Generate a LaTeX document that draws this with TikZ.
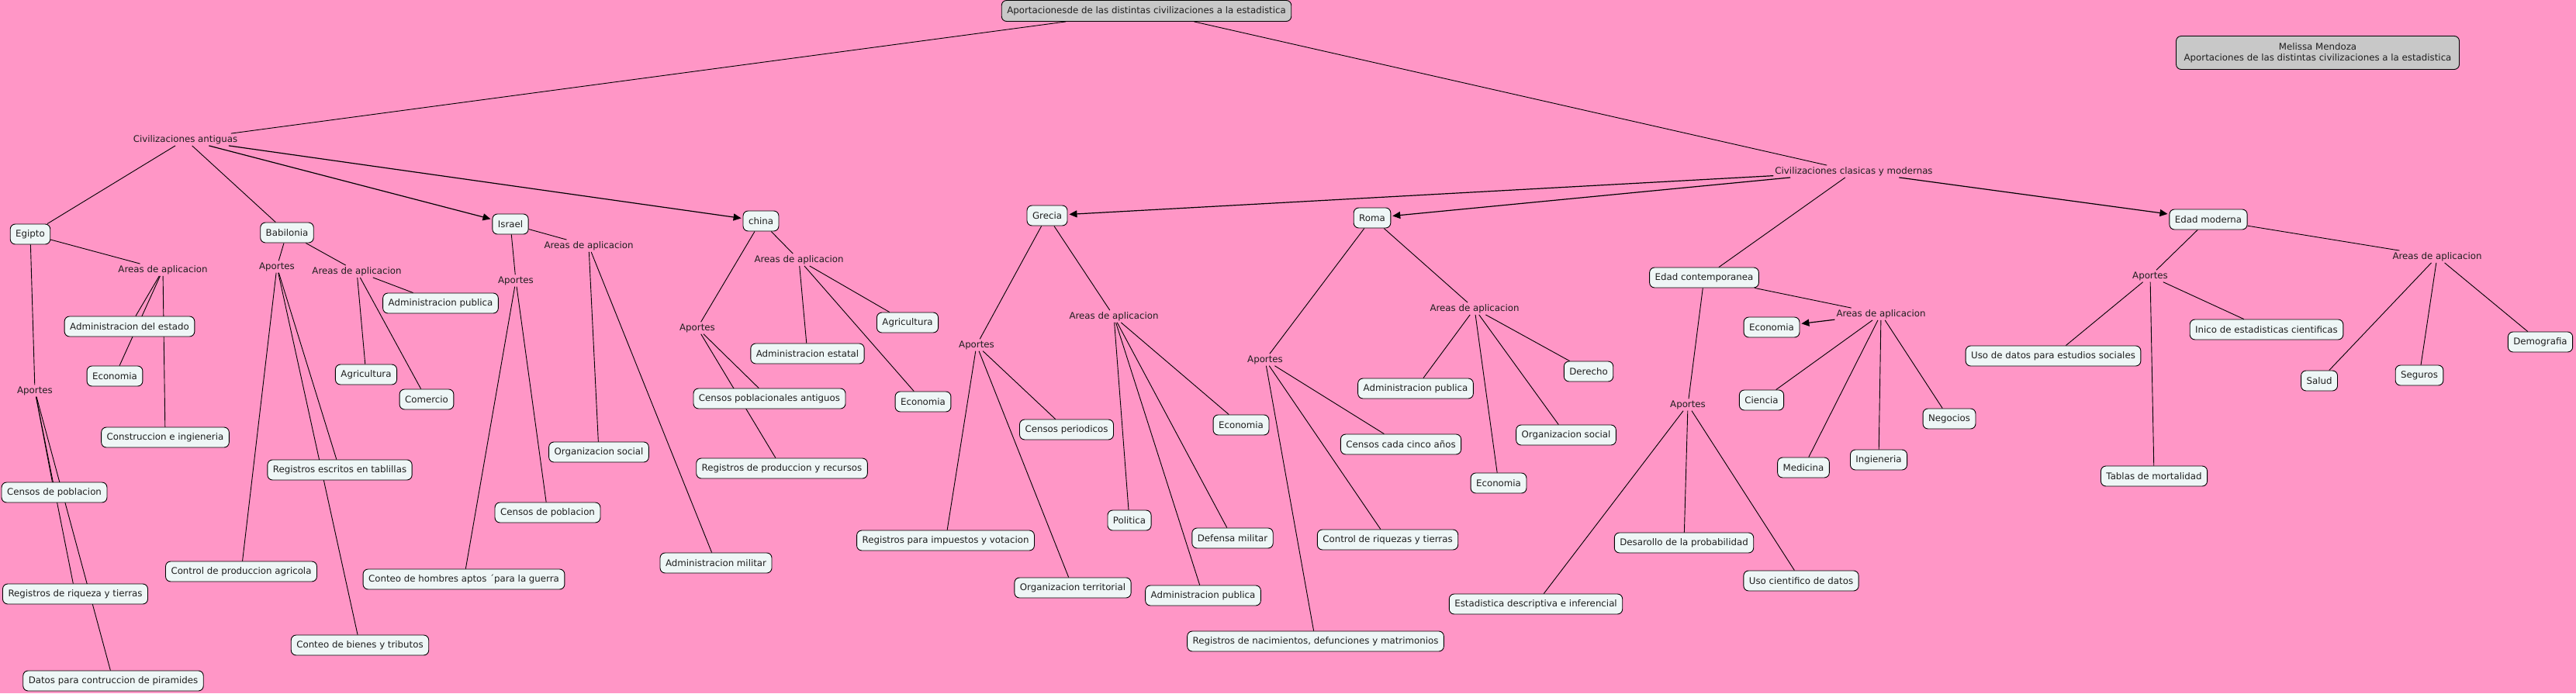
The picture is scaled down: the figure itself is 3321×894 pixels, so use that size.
\documentclass[tikz,border=0pt]{standalone}
\usepackage{fontspec}
\setmainfont{DejaVu Sans}
\usetikzlibrary{arrows.meta}
\definecolor{bgpink}{RGB}{255,150,198}
\definecolor{boxfill}{RGB}{238,246,246}
\definecolor{grayfill}{RGB}{200,200,200}
\definecolor{ink}{RGB}{30,30,30}
\pgfdeclarelayer{bglayer}
\pgfdeclarelayer{edgelayer}
\pgfsetlayers{bglayer,edgelayer,main}
\begin{document}
\begin{tikzpicture}[x=1pt,y=-1pt,
 every node/.style={font=\fontsize{11.8}{14}\selectfont, text=ink},
 concept/.style={draw=black, fill=boxfill, rounded corners=6.5pt, minimum height=26pt, inner xsep=7pt, inner ysep=2pt, line width=0.9pt},
 rootbox/.style={concept, fill=grayfill},
 linkph/.style={inner sep=2pt},
 conn/.style={draw=black, line width=0.9pt},
 arr/.style={conn, line width=1.2pt, shorten >=2pt, -{Triangle[length=10pt,width=9pt]}}
]
\begin{pgfonlayer}{bglayer}
\fill[bgpink] (0,0) rectangle (3321,894);
\end{pgfonlayer}
\path[use as bounding box] (0,0) rectangle (3321,894);

% roots
\node[rootbox, minimum height=27pt] (top) at (1478,14) {Aportacionesde de las distintas civilizaciones a la estadistica};
\node[rootbox, align=center, minimum width=365pt, minimum height=43pt] (author) at (2988,68) {Melissa Mendoza\\Aportaciones de las distintas civilizaciones a la estadistica};

\node[linkph] (ca) at (239,180) {Civilizaciones antiguas};
\node[linkph] (cm) at (2390,221) {Civilizaciones clasicas y modernas};

% civilizations
\node[concept] (eg) at (39,302) {Egipto};
\node[concept] (ba) at (370,300) {Babilonia};
\node[concept] (is) at (658,289) {Israel};
\node[concept] (ch) at (981,285) {china};
\node[concept] (gr) at (1350,278) {Grecia};
\node[concept] (ro) at (1769,281) {Roma};
\node[concept] (ec) at (2197,358) {Edad contemporanea};
\node[concept] (em) at (2847,283) {Edad moderna};

% Egipto
\node[linkph] (egA) at (210,348) {Areas de aplicacion};
\node[linkph] (egP) at (45,504) {Aportes};
\node[concept] (egA1) at (167,421) {Administracion del estado};
\node[concept] (egA2) at (148,485) {Economia};
\node[concept] (egA3) at (213,564) {Construccion e ingieneria};
\node[concept] (egP1) at (70,635) {Censos de poblacion};
\node[concept] (egP2) at (97,766) {Registros de riqueza y tierras};
\node[concept] (egP3) at (146,878) {Datos para contruccion de piramides};

% Babilonia
\node[linkph] (baP) at (357,344) {Aportes};
\node[linkph] (baA) at (460,350) {Areas de aplicacion};
\node[concept] (baA1) at (568,391) {Administracion publica};
\node[concept] (baA2) at (472,483) {Agricultura};
\node[concept] (baA3) at (550,515) {Comercio};
\node[concept] (baP1) at (438,606) {Registros escritos en tablillas};
\node[concept] (baP2) at (311,737) {Control de produccion agricola};
\node[concept] (baP3) at (464,832) {Conteo de bienes y tributos};

% Israel
\node[linkph] (isA) at (759,317) {Areas de aplicacion};
\node[linkph] (isP) at (665,362) {Aportes};
\node[concept] (isA1) at (772,583) {Organizacion social};
\node[concept] (isA2) at (923,726) {Administracion militar};
\node[concept] (isP1) at (706,661) {Censos de poblacion};
\node[concept] (isP2) at (598,747) {Conteo de hombres aptos ´para la guerra};

% china
\node[linkph] (chA) at (1030,335) {Areas de aplicacion};
\node[linkph] (chP) at (899,423) {Aportes};
\node[concept] (chA1) at (1170,416) {Agricultura};
\node[concept] (chA2) at (1041,456) {Administracion estatal};
\node[concept] (chA3) at (1190,518) {Economia};
\node[concept] (chP1) at (992,514) {Censos poblacionales antiguos};
\node[concept] (chP2) at (1008,604) {Registros de produccion y recursos};

% Grecia
\node[linkph] (grA) at (1436,408) {Areas de aplicacion};
\node[linkph] (grP) at (1259,445) {Aportes};
\node[concept] (grP1) at (1375,554) {Censos periodicos};
\node[concept] (grP2) at (1219,697) {Registros para impuestos y votacion};
\node[concept] (grP3) at (1383,758) {Organizacion territorial};
\node[concept] (grA1) at (1600,548) {Economia};
\node[concept] (grA2) at (1456,671) {Politica};
\node[concept] (grA3) at (1589,694) {Defensa militar};
\node[concept] (grA4) at (1551,768) {Administracion publica};

% Roma
\node[linkph] (roA) at (1901,398) {Areas de aplicacion};
\node[linkph] (roP) at (1631,464) {Aportes};
\node[concept] (roA1) at (1825,501) {Administracion publica};
\node[concept] (roA2) at (2048,479) {Derecho};
\node[concept] (roA3) at (2019,561) {Organizacion social};
\node[concept] (roA4) at (1932,623) {Economia};
\node[concept] (roP1) at (1806,573) {Censos cada cinco años};
\node[concept] (roP2) at (1789,696) {Control de riquezas y tierras};
\node[concept] (roP3) at (1696,827) {Registros de nacimientos, defunciones y matrimonios};

% Edad contemporanea
\node[linkph] (ecA) at (2425,405) {Areas de aplicacion};
\node[linkph] (ecP) at (2176,522) {Aportes};
\node[concept] (ecA1) at (2284,422) {Economia};
\node[concept] (ecA2) at (2271,516) {Ciencia};
\node[concept] (ecA3) at (2325,603) {Medicina};
\node[concept] (ecA4) at (2422,593) {Ingieneria};
\node[concept] (ecA5) at (2513,540) {Negocios};
\node[concept] (ecP1) at (2171,700) {Desarollo de la probabilidad};
\node[concept] (ecP2) at (2322,749) {Uso cientifico de datos};
\node[concept] (ecP3) at (1980,779) {Estadistica descriptiva e inferencial};

% Edad moderna
\node[linkph] (emP) at (2772,356) {Aportes};
\node[linkph] (emA) at (3142,331) {Areas de aplicacion};
\node[concept] (emP1) at (2647,459) {Uso de datos para estudios sociales};
\node[concept] (emP2) at (2922,425) {Inico de estadisticas cientificas};
\node[concept] (emP3) at (2777,614) {Tablas de mortalidad};
\node[concept] (emA1) at (2990,491) {Salud};
\node[concept] (emA2) at (3119,484) {Seguros};
\node[concept] (emA3) at (3275,441) {Demografia};

\begin{pgfonlayer}{edgelayer}
\draw[conn] (top) -- (ca);
\draw[conn] (top) -- (cm);
\draw[conn] (ca) -- (eg);
\draw[conn] (ca) -- (ba);
\draw[arr] (ca) -- (is);
\draw[arr] (ca) -- (ch);
\draw[arr] (cm) -- (gr);
\draw[arr] (cm) -- (ro);
\draw[conn] (cm) -- (ec);
\draw[arr] (cm) -- (em);
% Egipto
\draw[conn] (eg) -- (egA);
\draw[conn] (eg) -- (egP);
\draw[conn] (egA) -- (egA1);
\draw[conn] (egA) -- (egA2);
\draw[conn] (egA) -- (egA3);
\draw[conn] (egP) -- (egP1);
\draw[conn] (egP) -- (egP2);
\draw[conn] (egP) -- (egP3);
% Babilonia
\draw[conn] (ba) -- (baP);
\draw[conn] (ba) -- (baA);
\draw[conn] (baA) -- (baA1);
\draw[conn] (baA) -- (baA2);
\draw[conn] (baA) -- (baA3);
\draw[conn] (baP) -- (baP1);
\draw[conn] (baP) -- (baP2);
\draw[conn] (baP) -- (baP3);
% Israel
\draw[conn] (is) -- (isA);
\draw[conn] (is) -- (isP);
\draw[conn] (isA) -- (isA1);
\draw[conn] (isA) -- (isA2);
\draw[conn] (isP) -- (isP1);
\draw[conn] (isP) -- (isP2);
% china
\draw[conn] (ch) -- (chA);
\draw[conn] (ch) -- (chP);
\draw[conn] (chA) -- (chA1);
\draw[conn] (chA) -- (chA2);
\draw[conn] (chA) -- (chA3);
\draw[conn] (chP) -- (chP1);
\draw[conn] (chP) -- (chP2);
% Grecia
\draw[conn] (gr) -- (grA);
\draw[conn] (gr) -- (grP);
\draw[conn] (grP) -- (grP1);
\draw[conn] (grP) -- (grP2);
\draw[conn] (grP) -- (grP3);
\draw[conn] (grA) -- (grA1);
\draw[conn] (grA) -- (grA2);
\draw[conn] (grA) -- (grA3);
\draw[conn] (grA) -- (grA4);
% Roma
\draw[conn] (ro) -- (roA);
\draw[conn] (ro) -- (roP);
\draw[conn] (roA) -- (roA1);
\draw[conn] (roA) -- (roA2);
\draw[conn] (roA) -- (roA3);
\draw[conn] (roA) -- (roA4);
\draw[conn] (roP) -- (roP1);
\draw[conn] (roP) -- (roP2);
\draw[conn] (roP) -- (roP3);
% Edad contemporanea
\draw[conn] (ec) -- (ecA);
\draw[conn] (ec) -- (ecP);
\draw[arr] (ecA) -- (ecA1);
\draw[conn] (ecA) -- (ecA2);
\draw[conn] (ecA) -- (ecA3);
\draw[conn] (ecA) -- (ecA4);
\draw[conn] (ecA) -- (ecA5);
\draw[conn] (ecP) -- (ecP1);
\draw[conn] (ecP) -- (ecP2);
\draw[conn] (ecP) -- (ecP3);
% Edad moderna
\draw[conn] (em) -- (emP);
\draw[conn] (em) -- (emA);
\draw[conn] (emP) -- (emP1);
\draw[conn] (emP) -- (emP2);
\draw[conn] (emP) -- (emP3);
\draw[conn] (emA) -- (emA1);
\draw[conn] (emA) -- (emA2);
\draw[conn] (emA) -- (emA3);
\end{pgfonlayer}
\end{tikzpicture}
\end{document}
